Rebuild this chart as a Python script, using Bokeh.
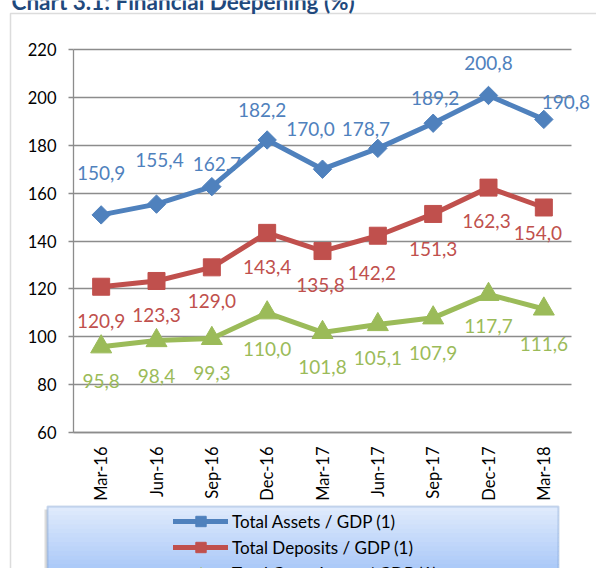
import math
from bokeh.plotting import figure
from bokeh.models import (Range1d, FixedTicker, Legend, LegendItem,
                          BoxAnnotation, Label, ColumnDataSource)
from bokeh.core.properties import value
from bokeh.embed import file_html
from bokeh.resources import INLINE

# ---------------- data ----------------
quarters = ["Mar-16", "Jun-16", "Sep-16", "Dec-16", "Mar-17",
            "Jun-17", "Sep-17", "Dec-17", "Mar-18"]
total_assets = [150.9, 155.4, 162.7, 182.2, 170.0, 178.7, 189.2, 200.8, 190.8]
total_deposits = [120.9, 123.3, 129.0, 143.4, 135.8, 142.2, 151.3, 162.3, 154.0]
total_loans = [95.8, 98.4, 99.3, 110.0, 101.8, 105.1, 107.9, 117.7, 111.6]
y_ticks = [60, 80, 100, 120, 140, 160, 180, 200, 220]
series_names = ["Total Assets / GDP (1)", "Total Deposits / GDP (1)",
                "Total Gross Loans / GDP (1)"]
title_text = "Chart 3.1: Financial Deepening (%)"

# ---------------- label placement (style, pixel offsets) ----------------
assets_dx = [0, 3, 5, -5, -12, -12, 2, 0, 22]
assets_dy = [-42, -44, -23, -30, -40, -19, -25, -32, -17]
deposits_dx = [0, 0, 0, 0, -2, -6, 0, -2, -6]
deposits_dy = [34, 34, 34, 34, 34, 37, 35, 33, 26]
loans_dx = [0, 0, 0, 0, 0, 0, 0, 0, 0]
loans_dy = [34, 35, 35, 36, 35, 33, 35, 32, 35]

BLUE = "#4F81BD"
RED = "#C0504D"
GREEN = "#9BBB59"
GRID = "#8C8C8C"
FONT = "Lato"

W, H = 596, 568
# layout of the plot area in pixels (style)
PLOT_L, PLOT_R, PLOT_T, PLOT_B = 73, 571, 49, 432
Y_MIN, Y_MAX = y_ticks[0], y_ticks[-1]
n_cat = len(quarters)
ux = (PLOT_R - PLOT_L) / n_cat
uy = (PLOT_B - PLOT_T) / (Y_MAX - Y_MIN)


def px_x(px):
    return (px - PLOT_L) / ux - 0.5


def px_y(py):
    return Y_MAX - (py - PLOT_T) / uy


def fmt(v):
    return f"{v:.1f}".replace(".", ",")


xs = list(range(n_cat))

p = figure(width=W, height=H,
           x_range=Range1d(px_x(0), px_x(W)),
           y_range=Range1d(px_y(H), px_y(0)),
           output_backend="svg", toolbar_location=None, min_border=0)
p.title.visible = False
p.outline_line_color = None
p.background_fill_color = "white"
p.border_fill_color = "white"

# grid
p.xgrid.visible = False
p.ygrid.ticker = FixedTicker(ticks=y_ticks)
p.ygrid.grid_line_color = GRID
p.ygrid.grid_line_width = 1.3
try:
    p.ygrid.cross_bounds = (-0.5, n_cat - 0.5)
    native_grid = True
except AttributeError:
    native_grid = False
if not native_grid:
    p.ygrid.visible = False
    p.segment(x0=[-0.5] * len(y_ticks), x1=[n_cat - 0.5] * len(y_ticks),
              y0=y_ticks, y1=y_ticks, line_color=GRID, line_width=1.3)

# y axis (drawn at the left edge of the plot area)
p.yaxis.fixed_location = -0.5
p.yaxis.bounds = (Y_MIN, Y_MAX)
p.yaxis.ticker = FixedTicker(ticks=y_ticks)
p.yaxis.axis_line_color = GRID
p.yaxis.axis_line_width = 1.3
p.yaxis.major_tick_line_color = GRID
p.yaxis.major_tick_line_width = 1.3
p.yaxis.major_tick_out = 5
p.yaxis.major_tick_in = 0
p.yaxis.minor_tick_line_color = None
p.yaxis.major_label_standoff = 12
p.yaxis.major_label_text_font = FONT
p.yaxis.major_label_text_font_size = "16.5px"
p.yaxis.major_label_text_color = "black"

# x axis (category axis at y = 60)
p.xaxis.fixed_location = Y_MIN
p.xaxis.bounds = (-0.5, n_cat - 0.5)
p.xaxis.ticker = FixedTicker(ticks=xs)
p.xaxis.major_label_overrides = {i: q for i, q in zip(xs, quarters)}
p.xaxis.axis_line_color = GRID
p.xaxis.axis_line_width = 1.3
p.xaxis.major_tick_line_color = None
p.xaxis.major_tick_out = 0
p.xaxis.major_tick_in = 0
p.xaxis.minor_tick_line_color = None
p.xaxis.major_label_orientation = math.pi / 2
p.xaxis.major_label_standoff = 14
p.xaxis.major_label_text_font = FONT
p.xaxis.major_label_text_font_size = "16.5px"
p.xaxis.major_label_text_color = "black"

# outer chart frame (gray)
p.add_layout(BoxAnnotation(left=px_x(10), right=px_x(W + 50), top=px_y(13), bottom=px_y(H + 50),
                           fill_alpha=0, line_color=GRID, line_width=1.5, level="underlay"))

# title (cut off at the top, as in the reference)
p.add_layout(Label(x=px_x(11), y=px_y(1), text=title_text, text_font=FONT,
                   text_font_style="bold", text_font_size="22.5px",
                   text_color="#1F497D", text_baseline="alphabetic",
                   text_align="left"))

series = [
    (total_assets, BLUE, dict(marker="square", angle=math.pi / 4, size=13), assets_dx, assets_dy),
    (total_deposits, RED, dict(marker="square", size=17), deposits_dx, deposits_dy),
    (total_loans, GREEN, dict(marker="triangle", size=21), loans_dx, loans_dy),
]

items = []
for (vals, col, mk, dx, dy), name in zip(series, series_names):
    src = ColumnDataSource(dict(x=xs, y=vals, label=[fmt(v) for v in vals],
                                dx=dx, dy=dy))
    ln = p.line(x="x", y="y", source=src, line_color=col, line_width=5,
                line_join="round", line_cap="round")
    sc = p.scatter(x="x", y="y", source=src, fill_color=col, line_color=col, **mk)
    p.text(x="x", y="y", text="label", source=src, x_offset="dx", y_offset="dy",
           text_align="center", text_baseline="middle",
           text_font=value(FONT), text_font_size="19px", text_color=col)
    items.append(LegendItem(label=name, renderers=[ln, sc]))

# legend box: shadow + vertical light-blue gradient + blue border
BOX_L, BOX_R, BOX_T = 47, 558, 506
p.add_layout(BoxAnnotation(left=px_x(BOX_L - 3), right=px_x(BOX_R - 3), top=px_y(BOX_T + 3),
                           bottom=px_y(H + 50), fill_color="#9A9A9A", fill_alpha=0.35,
                           line_color=None, level="underlay"))
top_c = (0xDF, 0xEA, 0xFC)
bot_c = (0xAC, 0xCA, 0xF8)
n = 14
hs = (H - BOX_T) / n
for i in range(n):
    t = i / (n - 1)
    c = tuple(int(round(a + (b - a) * t)) for a, b in zip(top_c, bot_c))
    p.add_layout(BoxAnnotation(left=px_x(BOX_L), right=px_x(BOX_R),
                               top=px_y(BOX_T + i * hs), bottom=px_y(BOX_T + (i + 1) * hs + 0.6),
                               fill_color="#%02x%02x%02x" % c, fill_alpha=1,
                               line_color=None, level="underlay"))
p.add_layout(BoxAnnotation(left=px_x(BOX_L), right=px_x(BOX_R), top=px_y(BOX_T),
                           bottom=px_y(H + 50), fill_alpha=0,
                           line_color="#5A86C4", line_width=2, level="underlay"))

legend = Legend(items=items, location=(173, H - 508 - 78), orientation="vertical",
                background_fill_alpha=0, border_line_color=None,
                padding=0, margin=0, spacing=0,
                glyph_width=55, glyph_height=26, label_height=26,
                label_standoff=4,
                label_text_font=FONT, label_text_font_size="17px",
                label_text_color="black")
p.add_layout(legend)

open("out.html", "w").write(file_html(p, INLINE))
